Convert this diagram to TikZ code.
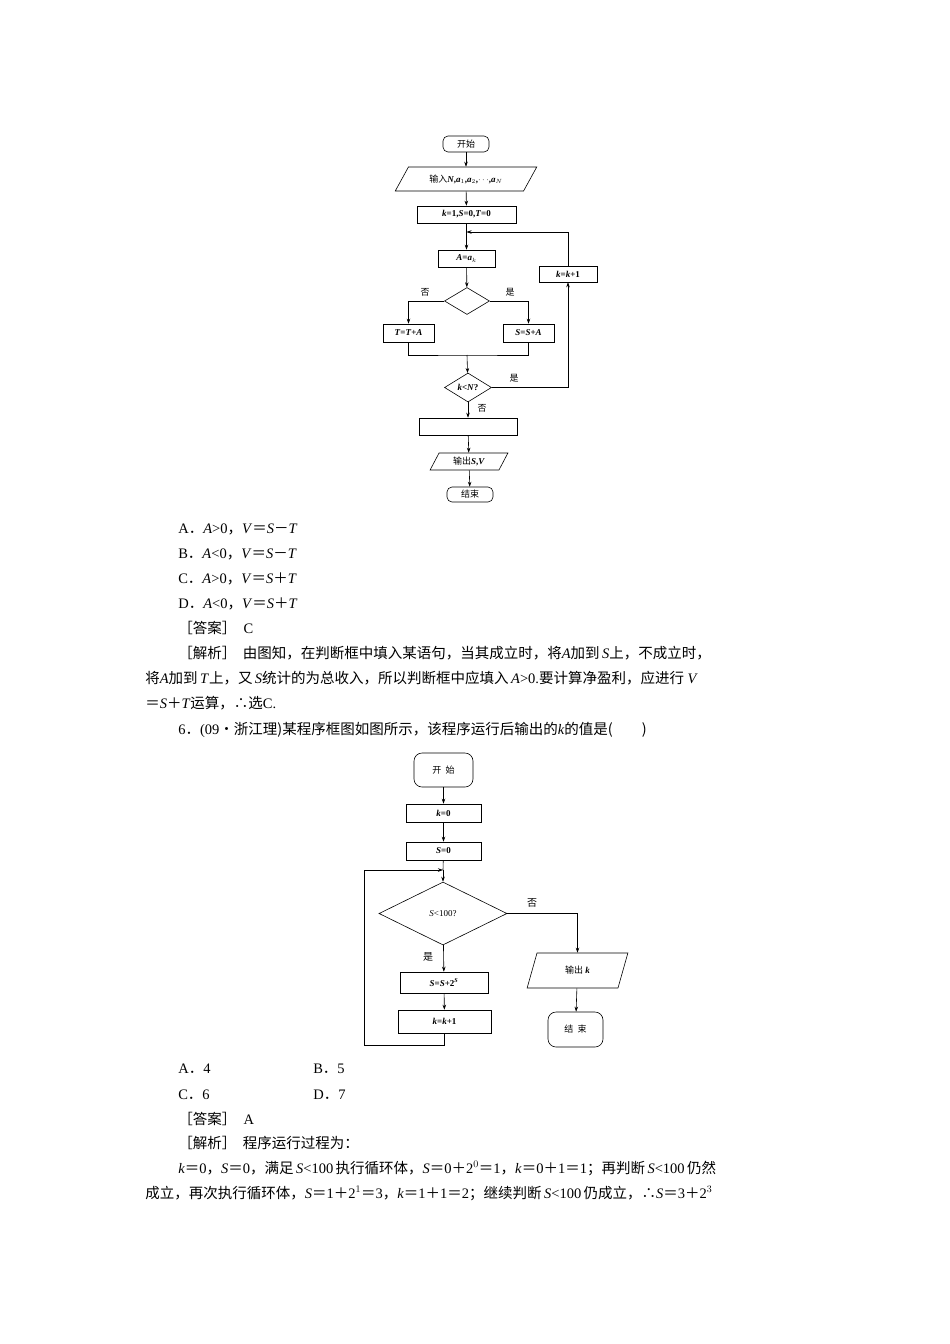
\documentclass[tikz,border=0pt]{standalone}
\usepackage{fontspec}
\setmainfont{Liberation Serif}
\newfontfamily\cjk{Noto Sans CJK SC}
\usetikzlibrary{shapes.geometric,arrows.meta}
\newcommand\zh[1]{{\cjk #1}}
\newcommand\I[1]{\textit{#1}}
\tikzset{
 box/.style={draw,rectangle,inner sep=0pt,font=\fontsize{9}{10}\selectfont},
 term/.style={draw,rectangle,rounded corners=5pt,inner sep=0pt,font=\fontsize{9}{10}\selectfont},
 para/.style={draw,trapezium,trapezium stretches=true,inner sep=0pt,font=\fontsize{9}{10}\selectfont},
 dia/.style={draw,diamond,inner sep=0pt,font=\fontsize{9}{10}\selectfont},
 lbl/.style={font=\fontsize{9}{10}\selectfont\cjk,inner sep=0pt},
 arr/.style={-{Stealth[length=5pt,width=3.5pt]}},
 txt/.style={anchor=base west,inner sep=0pt,font=\fontsize{14.5}{16}\selectfont},
}
\begin{document}
\begin{tikzpicture}[x=1pt,y=-1pt,line width=0.6pt]
\useasboundingbox (0,0) rectangle (950,1344);
% ---- top flowchart
\node[term,minimum width=46,minimum height=16] (s1) at (466,144) {\zh{开始}};
\node[para,minimum width=142,minimum height=24,trapezium left angle=47,trapezium right angle=133] (in1) at (466,179) {\zh{输入}\textbf{\I{N},\I{a}$_1$,\I{a}$_2$,$\cdots$,\I{a}$_N$}};
\node[box,minimum width=99,minimum height=17] (init) at (466.5,214.5) {\textbf{\I{k}=1,\I{S}=0,\I{T}=0}};
\node[box,minimum width=57,minimum height=17] (A) at (466.5,258.5) {\textbf{\I{A}=\I{a}$_k$}};
\node[box,minimum width=58,minimum height=16] (kk) at (568,274) {\textbf{\I{k}=\I{k}+1}};
\node[dia,minimum width=45,minimum height=27] (d1) at (467,301) {};
\node[box,minimum width=51,minimum height=18] (T) at (408.5,333) {\textbf{\I{T}=\I{T}+\I{A}}};
\node[box,minimum width=51,minimum height=18] (S) at (528.5,333) {\textbf{\I{S}=\I{S}+\I{A}}};
\node[dia,minimum width=47,minimum height=29] (d2) at (468,387.5) {\textbf{\I{k}<\I{N}?}};
\node[box,minimum width=98,minimum height=17] (e) at (468,426.5) {};
\node[para,minimum width=78,minimum height=17,trapezium left angle=62,trapezium right angle=118] (out1) at (469,461.5) {\zh{输出}\textbf{\I{S},\I{V}}};
\node[term,minimum width=46,minimum height=15] (end1) at (470,494.5) {\zh{结束}};
\coordinate (j1) at (466.5,232);
\coordinate (m1) at (467,355);
\draw[arr] (s1) -- (in1);
\draw[arr] (in1) -- (init);
\draw[arr] (init) -- (A);
\draw[arr] (A) -- (d1);
\draw[arr] (d1.west) -| (T.north);
\draw[arr] (d1.east) -| (S.north);
\draw (T.south) |- (m1) -| (S.south);
\draw[arr] (m1) -- (d2);
\draw[arr] (d2.east) -| (kk.south);
\draw[arr] (kk.north) |- (j1);
\draw[arr] (d2) -- (e);
\draw[arr] (e) -- (out1);
\draw[arr] (out1) -- (end1);
\node[lbl] (n1) at (425,292) {否};
\node[lbl] (y1) at (510,292) {是};
\node[lbl] (y2) at (514,378) {是};
\node[lbl] (n2) at (482,408) {否};
% ---- text block 1
\node[txt] (t1) at (178,533) {A\zh{．}\I{A}>0\zh{，}\I{V}\zh{＝}\I{S}\zh{－}\I{T}};
\node[txt] (t2) at (178,558) {B\zh{．}\I{A}<0\zh{，}\I{V}\zh{＝}\I{S}\zh{－}\I{T}};
\node[txt] (t3) at (178,583) {C\zh{．}\I{A}>0\zh{，}\I{V}\zh{＝}\I{S}\zh{＋}\I{T}};
\node[txt] (t4) at (178,608) {D\zh{．}\I{A}<0\zh{，}\I{V}\zh{＝}\I{S}\zh{＋}\I{T}};
\node[txt] (t5) at (178,633) {\zh{［答案］}\ \ C};
\node[txt] (t6) at (178,658) {\zh{［解析］\ \ 由图知，在判断框中填入某语句，当其成立时，将}\I{A}\zh{加到}\,\I{S}\zh{上，不成立时，}};
\node[txt] (t7) at (145,683) {\zh{将}\I{A}\zh{加到}\,\I{T}\zh{上，又}\,\I{S}\zh{统计的为总收入，所以判断框中应填入}\,\I{A}>0.\zh{要计算净盈利，应进行}\ \I{V}};
\node[txt] (t8) at (145,708) {\zh{＝}\I{S}\zh{＋}\I{T}\zh{运算，∴选}C.};
\node[txt] (t9) at (178,734) {6\zh{．}(09\zh{·浙江理)某程序框图如图所示，该程序运行后输出的}\I{k}\zh{的值是(\qquad )}};
% ---- bottom flowchart
\node[term,minimum width=59,minimum height=34,rounded corners=8pt] (s2) at (443.5,770) {\zh{开\ \ 始}};
\node[box,minimum width=75,minimum height=18] (k0) at (443.5,813) {\textbf{\I{k}=0}};
\node[box,minimum width=75,minimum height=18] (S0) at (443.5,851) {\textbf{\I{S}=0}};
\node[dia,minimum width=128,minimum height=63] (d3) at (443,913.5) {\I{S}<100?};
\node[box,minimum width=88,minimum height=21] (SS) at (444,982.5) {\textbf{\I{S}=\I{S}+2\textsuperscript{\I{S}}}};
\node[box,minimum width=93,minimum height=23] (k1) at (444.5,1021.5) {\textbf{\I{k}=\I{k}+1}};
\node[para,minimum width=101,minimum height=35,trapezium left angle=70,trapezium right angle=110] (out2) at (577.5,970.5) {\zh{输出}\ \textbf{\I{k}}};
\node[term,minimum width=55,minimum height=35,rounded corners=8pt] (end2) at (575.5,1029.5) {\zh{结\ \ 束}};
\coordinate (j2) at (443,870);
\coordinate (c1) at (364,1045);
\draw[arr] (s2) -- (k0);
\draw[arr] (k0) -- (S0);
\draw (S0) -- (j2);
\draw[arr] (j2) -- (d3);
\draw[arr] (d3.east) -| (out2.north);
\draw[arr] (d3) -- (SS);
\draw[arr] (SS) -- (k1);
\draw[arr] (out2) -- (end2);
\draw[arr] (k1.south) |- (c1) |- (j2);
\node[lbl,font=\fontsize{10}{11}\selectfont\cjk] (n3) at (532,903) {否};
\node[lbl,font=\fontsize{10}{11}\selectfont\cjk] (y3) at (428,957) {是};
% ---- text block 2
\node[txt] (u1) at (178,1073) {A\zh{．}4};
\node[txt] (u2) at (313,1073) {B\zh{．}5};
\node[txt] (u3) at (178,1099) {C\zh{．}6};
\node[txt] (u4) at (313,1099) {D\zh{．}7};
\node[txt] (u5) at (178,1124) {\zh{［答案］}\ \ A};
\node[txt] (u6) at (178,1148) {\zh{［解析］\ \ 程序运行过程为：}};
\node[txt] (u7) at (178,1173) {\I{k}\zh{＝}0\zh{，}\I{S}\zh{＝}0\zh{，满足}\,\I{S}<100\,\zh{执行循环体，}\I{S}\zh{＝}0\zh{＋}2$^0$\zh{＝}1\zh{，}\I{k}\zh{＝}0\zh{＋}1\zh{＝}1\zh{；再判断}\,\I{S}<100\,\zh{仍然}};
\node[txt] (u8) at (145,1198) {\zh{成立，再次执行循环体，}\I{S}\zh{＝}1\zh{＋}2$^1$\zh{＝}3\zh{，}\I{k}\zh{＝}1\zh{＋}1\zh{＝}2\zh{；继续判断}\,\I{S}<100\,\zh{仍成立，∴}\I{S}\zh{＝}3\zh{＋}2$^3$};
\end{tikzpicture}
\end{document}
